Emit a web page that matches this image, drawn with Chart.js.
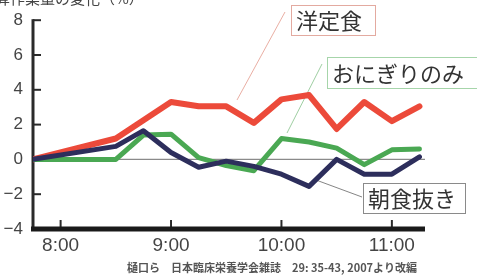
<!DOCTYPE html>
<html>
<head>
<meta charset="utf-8">
<script src="https://cdn.jsdelivr.net/npm/chart.js@4.4.1/dist/chart.umd.min.js"></script>
<style>
  html, body { margin: 0; padding: 0; background: #fff; }
  #wrap { width: 477px; height: 279px; position: relative; }
</style>
</head>
<body>
<div id="wrap"><canvas id="grafico" width="477" height="279"></canvas></div>
<script>
// horários em minutos desde 0:00 (7:45 ... 11:15)
const horarios = [465, 510, 525, 540, 555, 570, 585, 600, 615, 630, 645, 660, 675];
const ticksX = [480, 540, 600, 660];
const ticksY = [-4, -2, 0, 2, 4, 6, 8];

const yoteishoku = [0, 1.2, null, 3.3, 3.05, 3.05, 2.1, 3.45, 3.7, 1.75, 3.3, 2.2, 3.05];
const onigiri    = [0, 0, 1.4, 1.45, 0.1, -0.35, -0.65, 1.2, 1.0, 0.65, -0.3, 0.55, 0.6];
const nuki       = [0, 0.75, 1.65, 0.4, -0.45, -0.1, -0.4, -0.85, -1.55, 0, -0.85, -0.85, 0.15];

const nomes = ["洋定食", "おにぎりのみ", "朝食抜き"];
const titulo = "計算作業量の変化（%）";
const fonte = "樋口ら　日本臨床栄養学会雑誌　29: 35-43, 2007より改編";

const CJK = '"Noto Sans CJK JP", sans-serif';
const NUM = '"Liberation Sans", Arial, sans-serif';

function pontos(valores) {
  return horarios.map((t, i) => ({ x: t, y: valores[i] }));
}

function fmtHora(v) {
  const h = Math.floor(v / 60);
  const m = v % 60;
  return h + ":" + String(m).padStart(2, "0");
}

// eixos, marcas, linha do zero, caixas de legenda e textos
const extras = {
  id: "extras",
  beforeDatasetsDraw(chart) {
    const { ctx, chartArea: a, scales: { x, y } } = chart;
    ctx.save();
    // linha do zero
    const y0 = y.getPixelForValue(0);
    ctx.strokeStyle = "#8a8a8a";
    ctx.lineWidth = 1.2;
    ctx.beginPath();
    ctx.moveTo(a.left, y0);
    ctx.lineTo(a.right, y0);
    ctx.stroke();
    // eixo y
    ctx.strokeStyle = "#2a2a2a";
    ctx.lineWidth = 3;
    ctx.beginPath();
    ctx.moveTo(a.left, a.top - 1);
    ctx.lineTo(a.left, a.bottom);
    ctx.stroke();
    // marcas do eixo y (para dentro)
    ctx.lineWidth = 2;
    ticksY.forEach(v => {
      const py = y.getPixelForValue(v);
      ctx.beginPath();
      ctx.moveTo(a.left, py);
      ctx.lineTo(a.left + 8, py);
      ctx.stroke();
    });
    // marcas do eixo x (para cima)
    ticksX.forEach(v => {
      const px = x.getPixelForValue(v);
      ctx.beginPath();
      ctx.moveTo(px, a.bottom);
      ctx.lineTo(px, a.bottom - 9);
      ctx.stroke();
    });
    // eixo x
    ctx.strokeStyle = "#1a1a1a";
    ctx.lineWidth = 5;
    ctx.beginPath();
    ctx.moveTo(a.left - 2, a.bottom);
    ctx.lineTo(a.right, a.bottom);
    ctx.stroke();
    // linhas de chamada
    const linhas = [
      { de: [285, 12], ate: [237, 100], cor: "#e6a598" },
      { de: [322, 64], ate: [287, 133], cor: "#93c897" },
      { de: [362, 197], ate: [316, 180], cor: "#777" }
    ];
    ctx.lineWidth = 0.9;
    linhas.forEach(l => {
      ctx.strokeStyle = l.cor;
      ctx.beginPath();
      ctx.moveTo(l.de[0], l.de[1]);
      ctx.lineTo(l.ate[0], l.ate[1]);
      ctx.stroke();
    });
    ctx.restore();
  },
  afterDraw(chart) {
    const { ctx } = chart;
    ctx.save();
    const caixas = [
      { txt: nomes[0], x: 291, y: 5, w: 84, h: 30, borda: "#e3aaa0" },
      { txt: nomes[1], x: 327, y: 57, w: 153, h: 31, borda: "#a6d5aa" },
      { txt: nomes[2], x: 363, y: 183, w: 102, h: 30, borda: "#8a8a8a" }
    ];
    caixas.forEach(c => {
      ctx.fillStyle = "#fff";
      ctx.fillRect(c.x, c.y, c.w, c.h);
      ctx.strokeStyle = c.borda;
      ctx.lineWidth = 1;
      ctx.strokeRect(c.x + 0.5, c.y + 0.5, c.w, c.h);
      ctx.fillStyle = "#333";
      ctx.font = "22px " + CJK;
      ctx.textAlign = "left";
      ctx.textBaseline = "middle";
      ctx.fillText(c.txt, c.x + 5, c.y + c.h / 2 + 1);
    });
    // título cortado no topo
    ctx.fillStyle = "#444";
    ctx.font = "15px " + CJK;
    ctx.textAlign = "left";
    ctx.textBaseline = "middle";
    ctx.fillText(titulo, -20, -2);
    // fonte
    ctx.fillStyle = "#555";
    ctx.font = "bold 11px " + CJK;
    ctx.fillText(fonte, 127, 268);
    ctx.restore();
  }
};

new Chart(document.getElementById("grafico"), {
  type: "line",
  data: {
    datasets: [
      { label: nomes[2], data: pontos(nuki), borderColor: "#2d2e5c", borderWidth: 5, order: 1 },
      { label: nomes[1], data: pontos(onigiri), borderColor: "#4aa853", borderWidth: 5, order: 2 },
      { label: nomes[0], data: pontos(yoteishoku), borderColor: "#ec4a3a", borderWidth: 6, order: 3 }
    ].map(d => ({
      ...d,
      pointRadius: 0,
      tension: 0,
      fill: false,
      spanGaps: true,
      borderJoinStyle: "round",
      borderCapStyle: "round"
    }))
  },
  options: {
    responsive: false,
    animation: false,
    layout: { padding: { top: 11, right: 52, left: 0, bottom: 0 } },
    plugins: { legend: { display: false }, tooltip: { enabled: false } },
    scales: {
      x: {
        type: "linear",
        min: 465,
        max: 678,
        afterBuildTicks: s => { s.ticks = ticksX.map(v => ({ value: v })); },
        afterFit: s => { s.height = 50; },
        grid: { display: false, drawTicks: false },
        border: { display: false },
        ticks: {
          padding: 5,
          color: "#444",
          font: { family: NUM, size: 19 },
          callback: v => fmtHora(v),
          maxRotation: 0,
          autoSkip: false
        }
      },
      y: {
        min: -4,
        max: 8,
        afterBuildTicks: s => { s.ticks = ticksY.map(v => ({ value: v })); },
        afterFit: s => { s.width = 33; },
        grid: { display: false, drawTicks: false },
        border: { display: false },
        ticks: {
          padding: 10,
          color: "#444",
          font: { family: NUM, size: 17 },
          callback: v => (v < 0 ? "\u2212" + Math.abs(v) : String(v))
        }
      }
    }
  },
  plugins: [extras]
});
</script>
</body>
</html>
